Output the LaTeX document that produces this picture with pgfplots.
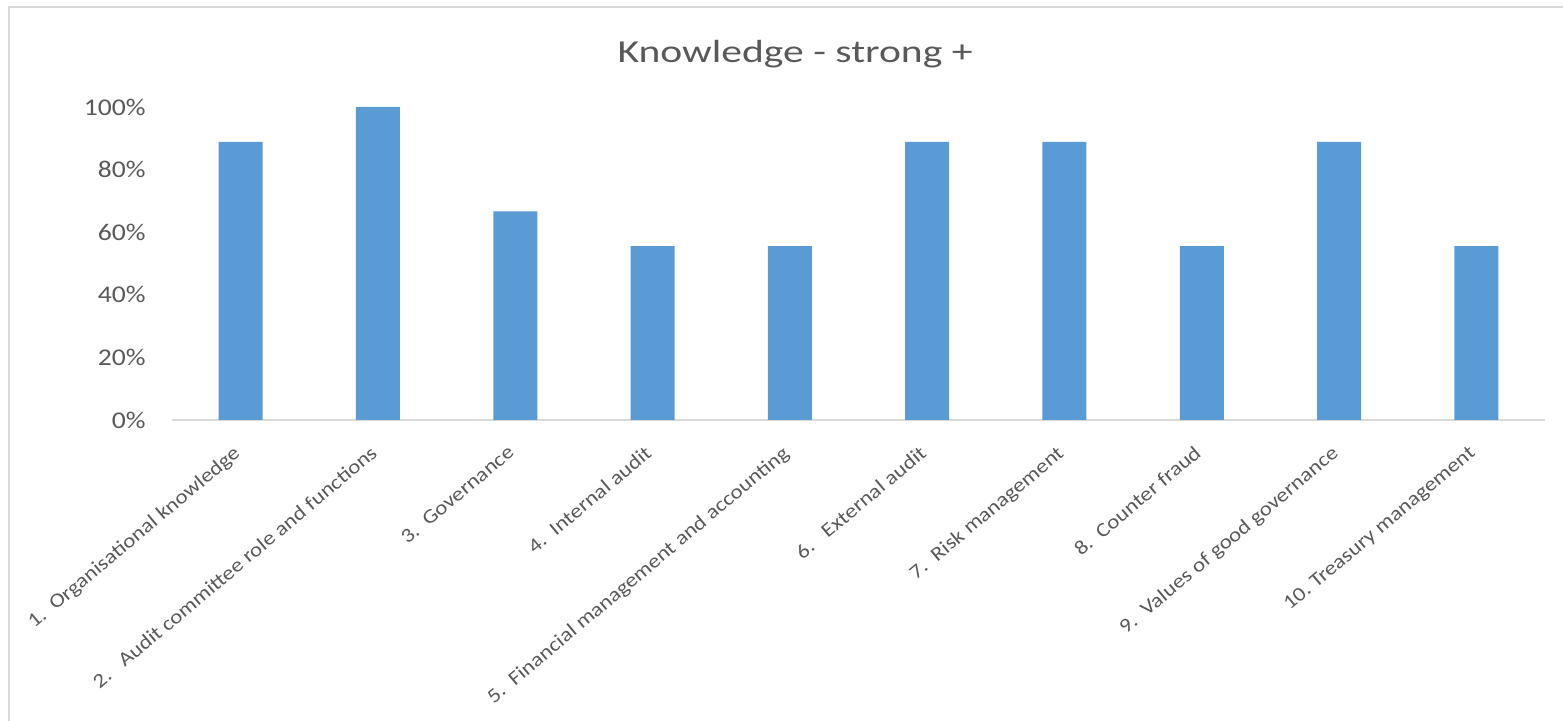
\documentclass[border=0pt]{standalone}
\usepackage{fontspec}
\setmainfont{Carlito}[FakeStretch=1.15]
\newfontfamily\titlefont{Carlito}[FakeStretch=1.3]
\usepackage{pgfplots}
\pgfplotsset{compat=1.18}
\definecolor{barblue}{HTML}{5B9BD5}
\definecolor{txtgray}{HTML}{595959}
\definecolor{gridgray}{HTML}{D9D9D9}
\begin{document}
\begin{tikzpicture}
\begin{axis}[
    at={(0,0)}, anchor=origin,
    scale only axis,
    width=686.5pt, height=156.5pt,
    xmin=0, xmax=10,
    ymin=0, ymax=1,
    axis x line*=bottom,
    axis y line=none,
    x axis line style={draw=gridgray, line width=0.9pt},
    xtick={0.5,1.5,...,9.5},
    xticklabels={
        {1.\ \ Organisational knowledge},
        {2.\ \ \ Audit committee role and functions},
        {3.\ \ Governance},
        {4.\ \ Internal audit},
        {5.\ \ Financial management and accounting},
        {6.\ \ \ External audit},
        {7.\ \ Risk management},
        {8.\ \ Counter fraud},
        {9.\ \ Values of good governance},
        {10.\ Treasury management}},
    xtick style={draw=none},
    xticklabel style={font=\fontsize{10}{12}\selectfont, text=txtgray,
        rotate=40, anchor=north east, inner sep=0pt, yshift=-6.5pt, xshift=-11pt},
    ytick={0,0.2,0.4,0.6,0.8,1},
    ymajorgrids=true,
    grid style={draw=gridgray, line width=0.9pt},
    clip=false,
]
\addplot[ybar, bar width=22pt, fill=barblue, draw=none] coordinates {
    (0.5,0.8889) (1.5,1.0) (2.5,0.6667) (3.5,0.5556) (4.5,0.5556)
    (5.5,0.8889) (6.5,0.8889) (7.5,0.5556) (8.5,0.8889) (9.5,0.5556)
};
% y tick labels (the y axis line itself is hidden, as in the original)
\pgfplotsinvokeforeach{0,20,40,60,80,100}{
    \node[anchor=east, inner sep=0pt, text=txtgray, font=\fontsize{12}{14}\selectfont]
        at (axis cs:0,#1/100) [xshift=-13pt] {#1\%};
}
\end{axis}
\node[anchor=base, text=txtgray, font=\titlefont\fontsize{16}{19}\selectfont]
    at (311.5pt,178.7pt) {Knowledge - strong +};
\draw[gridgray, line width=1pt] (-81.5pt,-160pt) -- (-81.5pt,206.5pt) -- (700pt,206.5pt);
\pgfresetboundingbox
\path[use as bounding box] (-86pt,-150.5pt) rectangle (695.5pt,210pt);
\end{tikzpicture}
\end{document}
